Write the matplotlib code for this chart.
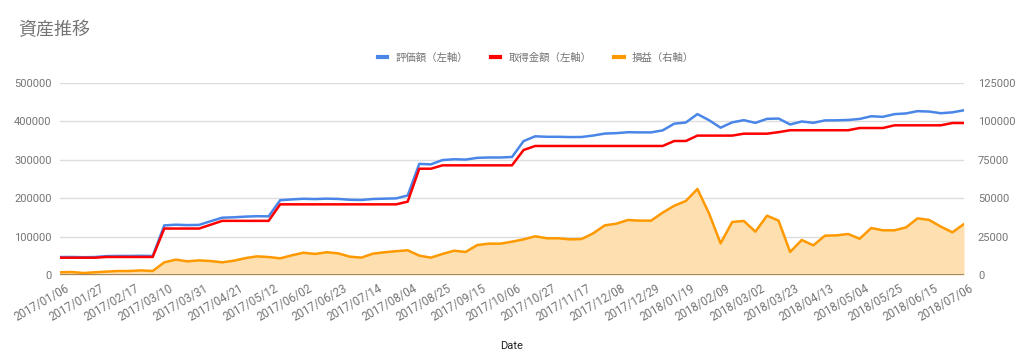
import numpy as np
import pandas as pd
import matplotlib
matplotlib.use("Agg")
import matplotlib.pyplot as plt
import matplotlib.transforms as mtransforms

plt.rcParams['font.family'] = ['Roboto', 'Noto Sans CJK JP', 'DejaVu Sans']

# weekly dates, 2017/01/06 - 2018/07/06
dates = pd.date_range('2017-01-06', '2018-07-06', freq='7D')

# 評価額 (left axis)
valuation = [46750, 46950, 46300, 46750, 49200, 49600, 49600, 50000, 49600, 129250,
             131000, 129900, 130500, 140100, 149250, 150300, 152000, 153150, 152700, 194850,
             196800, 198500, 197700, 198800, 198100, 195950, 195300, 197900, 198800, 199500,
             207100, 289400, 288100, 299300, 301400, 300600, 305100, 306000, 306000, 307300,
             348700, 361200, 359900, 359900, 359200, 359400, 363100, 368300, 369400, 371800,
             371400, 371400, 376600, 394100, 397200, 419000, 403100, 383600, 397500, 403200,
             396200, 406600, 407400, 392000, 399800, 396300, 402600, 402800, 403700, 406400,
             413400, 411900, 418900, 420800, 426700, 425600, 421300, 423600, 429000]

# 取得金額 (left axis)
cost = [45000, 45000, 45000, 45000, 47000, 47000, 47000, 47000, 47000, 121000,
        121000, 121000, 121000, 131000, 141000, 141000, 141000, 141000, 141000, 184000,
        184000, 184000, 184000, 184000, 184000, 184000, 184000, 184000, 184000, 184000,
        191000, 276800, 276800, 285600, 285600, 285600, 285600, 285600, 285600, 285600,
        325500, 336000, 336000, 336000, 336000, 336000, 336000, 336000, 336000, 336000,
        336000, 336000, 336000, 349000, 349000, 363000, 363000, 363000, 363000, 368000,
        368000, 368000, 372000, 377000, 377000, 377000, 377000, 377000, 377000, 382800,
        382800, 382800, 389800, 389800, 389800, 389800, 389800, 395800, 395800]

# 損益 (right axis)
profit = [1750, 1950, 1300, 1750, 2200, 2600, 2600, 3000, 2600, 8250,
          10000, 8900, 9500, 9100, 8250, 9300, 11000, 12150, 11700, 10850,
          12800, 14500, 13700, 14800, 14100, 11950, 11300, 13900, 14800, 15500,
          16100, 12600, 11300, 13700, 15800, 15000, 19500, 20400, 20400, 21700,
          23200, 25200, 23900, 23900, 23200, 23400, 27100, 32300, 33400, 35800,
          35400, 35400, 40600, 45100, 48200, 56000, 40100, 20600, 34500, 35200,
          28200, 38600, 35400, 15000, 22800, 19300, 25600, 25800, 26700, 23600,
          30600, 29100, 29100, 31000, 36900, 35800, 31500, 27800, 33200]

tick_gray = '#757575'

fig = plt.figure(figsize=(10.24, 3.63), dpi=100)
ax = fig.add_axes([60 / 1024, 88 / 363, 904 / 1024, 192 / 363])
ax2 = ax.twinx()

# profit area on the right axis, drawn behind
ax2.fill_between(dates, profit, 0, color='#fedfb0', lw=0, zorder=1)
l3, = ax2.plot(dates, profit, color='#ff9900', lw=1.8, zorder=2, label='損益（右軸）')
ax2.axhline(0, color='#8d7757', lw=1.2, zorder=3)

l1, = ax.plot(dates, valuation, color='#4a86e8', lw=1.8, zorder=4, label='評価額（左軸）')
l2, = ax.plot(dates, cost, color='#ff0000', lw=1.8, zorder=4, label='取得金額（左軸）')

# left axis above right so lines sit on top
ax.set_zorder(ax2.get_zorder() + 1)
ax.patch.set_visible(False)

ax.set_ylim(0, 500000)
ax2.set_ylim(0, 125000)
ax.set_yticks(np.arange(0, 500001, 100000))
ax2.set_yticks(np.arange(0, 125001, 25000))
ax.set_xlim(dates[0], dates[-1])

ax2.grid(axis='y', color='#dddddd', lw=1)
ax2.set_axisbelow(True)

for a in (ax, ax2):
    for s in a.spines.values():
        s.set_visible(False)
    a.tick_params(length=0, labelsize=8, labelcolor=tick_gray)

ax.tick_params(axis='y', pad=6)
ax2.tick_params(axis='y', pad=10)

ticks = dates[::3]
ax.set_xticks(ticks)
ax.set_xticklabels([d.strftime('%Y/%m/%d') for d in ticks], rotation=30,
                   ha='right', rotation_mode='anchor', fontsize=8.3)
ax.tick_params(axis='x', pad=5)
# nudge date labels a little to the right, like the original
shift = mtransforms.ScaledTranslation(5 / 100, 0, fig.dpi_scale_trans)
for lbl in ax.get_xticklabels():
    lbl.set_transform(lbl.get_transform() + shift)

ax.set_xlabel('Date', fontsize=8, color='#222222', labelpad=12)

fig.text(18 / 1024, 1 - 30 / 363, '資産推移', fontsize=13, color=tick_gray, va='center')

leg = fig.legend(handles=[l1, l2, l3], loc='center', bbox_to_anchor=(536 / 1024, 1 - 58 / 363),
                 ncol=3, frameon=False, fontsize=7.5, handlelength=0.9, handletextpad=0.8,
                 columnspacing=2.2, labelcolor=tick_gray)
for h in leg.legend_handles:
    h.set_linewidth(3)

plt.savefig('out.png', dpi=100)
